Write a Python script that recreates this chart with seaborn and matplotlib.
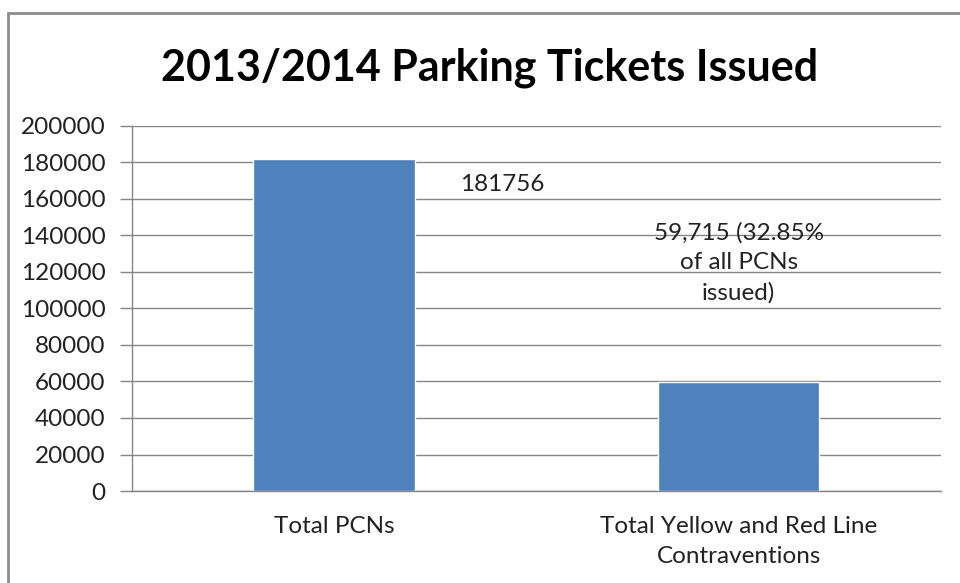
import matplotlib
matplotlib.use("Agg")
import matplotlib.pyplot as plt
import seaborn as sns
import pandas as pd
from matplotlib.patches import Rectangle

categories = ["Total PCNs", "Total Yellow and Red Line\nContraventions"]
tickets = [181756, 59715]
bar_labels = ["181756", "59,715 (32.85%\nof all PCNs\nissued)"]
yticks = list(range(0, 200001, 20000))
title = "2013/2014 Parking Tickets Issued"

sns.set_style("white")
plt.rcParams["font.family"] = ["Lato", "DejaVu Sans"]

df = pd.DataFrame({"cat": categories, "n": tickets})

fig = plt.figure(figsize=(9.6, 5.83), dpi=100)
ax = fig.add_axes([0.1375, 0.1578, 0.8425, 0.6261])

sns.barplot(data=df, x="cat", y="n", color="#4F81BD", saturation=1, width=0.4, ax=ax)

grey = "#868686"
fs = 17.5
ax.set_ylim(0, 200000)
ax.set_xlim(-0.5, 1.5)
ax.set_yticks(yticks)
ax.set_yticklabels([str(t) for t in yticks], fontsize=fs, color="#222222")
ax.yaxis.grid(True, color=grey, linewidth=1)
ax.set_axisbelow(True)
ax.set_xlabel("")
ax.set_ylabel("")

ax.set_xticks([0, 1])
ax.set_xticklabels(categories, fontsize=fs, color="#222222", linespacing=1.5)
ax.set_xticks([-0.5, 0.5, 1.5], minor=True)
ax.tick_params(axis="x", which="major", length=0, pad=18)
ax.tick_params(axis="x", which="minor", length=8, width=1, color=grey, direction="out")
ax.tick_params(axis="y", length=9, width=1, color=grey, direction="out", left=True, pad=10)

for s in ["top", "right"]:
    ax.spines[s].set_visible(False)
for s in ["left", "bottom"]:
    ax.spines[s].set_color(grey)
    ax.spines[s].set_linewidth(1)

# data labels
ax.annotate(bar_labels[0], xy=(0, tickets[0]), xytext=(126, -25), textcoords="offset pixels",
            ha="left", va="center", fontsize=fs, color="#222222")
ax.annotate(bar_labels[1], xy=(1, tickets[1]), xytext=(0, 119), textcoords="offset pixels",
            ha="center", va="center", fontsize=fs, color="#222222", linespacing=1.5)

fig.text(0.51, 0.884, title, ha="center", va="center", fontsize=31, fontweight="bold", color="black")

# chart border (top and left edges visible)
fig.patches.append(Rectangle((8 / 960, -0.1), 1.2, 1.1 - 13 / 583, transform=fig.transFigure,
                             fill=False, edgecolor="#8c8c8c", linewidth=2))

fig.savefig("out.png", dpi=100)
